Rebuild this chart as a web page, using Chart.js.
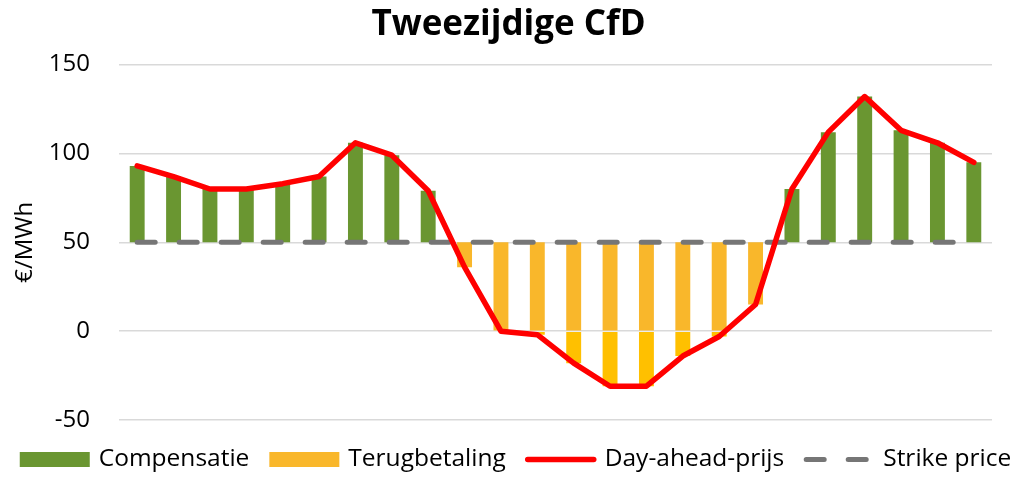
<!DOCTYPE html>
<html>
<head>
<meta charset="utf-8">
<title>Tweezijdige CfD</title>
<script src="https://cdn.jsdelivr.net/npm/chart.js@4.4.0/dist/chart.umd.min.js"></script>
<style>
    html, body { margin: 0; padding: 0; background: #fff; }
    #wrap { width: 1017px; height: 477px; }
</style>
</head>
<body>
<div id="wrap"><canvas id="cfdChart"></canvas></div>
<script>
// Hours of the day (no labels shown on the x axis)
const hours = ['1', '2', '3', '4', '5', '6', '7', '8', '9', '10', '11', '12',
               '13', '14', '15', '16', '17', '18', '19', '20', '21', '22', '23', '24'];

// Day-ahead price per hour, €/MWh
const dayAheadPrice = [93, 87, 80, 80, 83, 87, 106, 99, 79, 36, 0, -2,
                       -18, -31, -31, -14, -3, 15, 80, 112, 132, 113, 106, 95];

// Strike price per hour, €/MWh
const strikePrice = [50, 50, 50, 50, 50, 50, 50, 50, 50, 50, 50, 50,
                     50, 50, 50, 50, 50, 50, 50, 50, 50, 50, 50, 50];

// y axis range
const yMin = -50;
const yMax = 150;
const yStep = 50;

const GREEN = '#6A9631';
const YELLOW = '#F9B72B';
const YELLOW_NEG = '#FFC000';
const RED = '#FF0000';
const GRAY = '#767676';

// Floating bars between the strike price and the day-ahead price
const compensatie = dayAheadPrice.map((p, i) => p > strikePrice[i] ? [strikePrice[i], p] : null);
const terugbetaling = dayAheadPrice.map((p, i) => p < strikePrice[i] ? [Math.max(p, 0), strikePrice[i]] : null);
const terugbetalingNeg = dayAheadPrice.map(p => p < 0 ? [p, 0] : null);

Chart.defaults.font.family = "'Open Sans', 'Noto Sans', sans-serif";
Chart.defaults.color = '#000';

// Legend drawn as one centred row under the plot
const legendRow = {
    id: 'legendRow',
    afterDraw(chart) {
        const ctx = chart.ctx;
        const items = chart.data.datasets.filter(d => d.legendKind);
        const boxW = 70, boxH = 15, gapText = 9, gapItem = 20;
        const cy = 459.5;
        ctx.save();
        ctx.font = "24.5px 'Open Sans', 'Noto Sans', sans-serif";
        ctx.textBaseline = 'middle';
        ctx.textAlign = 'left';
        let total = 0;
        items.forEach((d, i) => {
            total += boxW + gapText + ctx.measureText(d.label).width;
            if (i > 0) total += gapItem;
        });
        let x = 515.5 - total / 2;
        items.forEach(d => {
            if (d.legendKind === 'box') {
                ctx.fillStyle = d.backgroundColor;
                ctx.fillRect(x, cy - boxH / 2, boxW, boxH);
            } else {
                ctx.beginPath();
                ctx.strokeStyle = d.borderColor;
                ctx.lineWidth = d.borderWidth;
                ctx.lineCap = 'round';
                ctx.setLineDash(d.borderDash || []);
                ctx.moveTo(x + 2, cy);
                ctx.lineTo(x + boxW - 2, cy);
                ctx.stroke();
                ctx.setLineDash([]);
            }
            x += boxW + gapText;
            ctx.fillStyle = '#000';
            ctx.fillText(d.label, x, cy);
            x += ctx.measureText(d.label).width + gapItem;
        });
        ctx.restore();
    }
};

new Chart(document.getElementById('cfdChart'), {
    type: 'bar',
    data: {
        labels: hours,
        datasets: [
            {
                label: 'Compensatie',
                legendKind: 'box',
                data: compensatie,
                backgroundColor: GREEN,
                grouped: false,
                order: 2
            },
            {
                label: 'Terugbetaling',
                legendKind: 'box',
                data: terugbetaling,
                backgroundColor: YELLOW,
                grouped: false,
                order: 2
            },
            {
                type: 'line',
                label: 'Day-ahead-prijs',
                legendKind: 'line',
                data: dayAheadPrice,
                borderColor: RED,
                borderWidth: 5.5,
                borderJoinStyle: 'round',
                borderCapStyle: 'round',
                pointRadius: 0,
                tension: 0,
                order: 0
            },
            {
                type: 'line',
                label: 'Strike price',
                legendKind: 'line',
                data: strikePrice,
                borderColor: GRAY,
                borderWidth: 5,
                borderDash: [18, 24],
                borderCapStyle: 'round',
                pointRadius: 0,
                order: 1
            },
            {
                label: 'Terugbetaling (negatief)',
                data: terugbetalingNeg,
                backgroundColor: YELLOW_NEG,
                grouped: false,
                order: 3
            }
        ]
    },
    options: {
        responsive: true,
        maintainAspectRatio: false,
        animation: false,
        layout: {
            padding: { left: 0, right: 0, top: 0, bottom: 57 }
        },
        datasets: {
            bar: {
                barPercentage: 0.41,
                categoryPercentage: 1
            }
        },
        scales: {
            x: {
                display: false
            },
            y: {
                min: yMin,
                max: yMax,
                ticks: {
                    stepSize: yStep,
                    padding: 29,
                    font: { size: 24 },
                    color: '#000'
                },
                grid: {
                    color: '#D9D9D9',
                    lineWidth: 1.5,
                    drawTicks: false
                },
                border: { display: false },
                title: {
                    display: true,
                    text: '€/MWh',
                    font: { size: 24 },
                    padding: { top: 10.6, bottom: 0 }
                },
                afterFit(scale) {
                    scale.width = 119;
                }
            },
            // empty axis only keeping a margin on the right
            yPad: {
                position: 'right',
                display: true,
                ticks: { display: false },
                grid: { display: false },
                border: { display: false },
                afterFit(scale) {
                    scale.width = 25;
                }
            }
        },
        plugins: {
            legend: { display: false },
            tooltip: { enabled: false },
            title: {
                display: true,
                text: 'Tweezijdige CfD',
                color: '#000',
                font: { size: 35, weight: 'bold' },
                padding: { top: 4, bottom: 18.6 }
            }
        }
    },
    plugins: [legendRow]
});
</script>
</body>
</html>
